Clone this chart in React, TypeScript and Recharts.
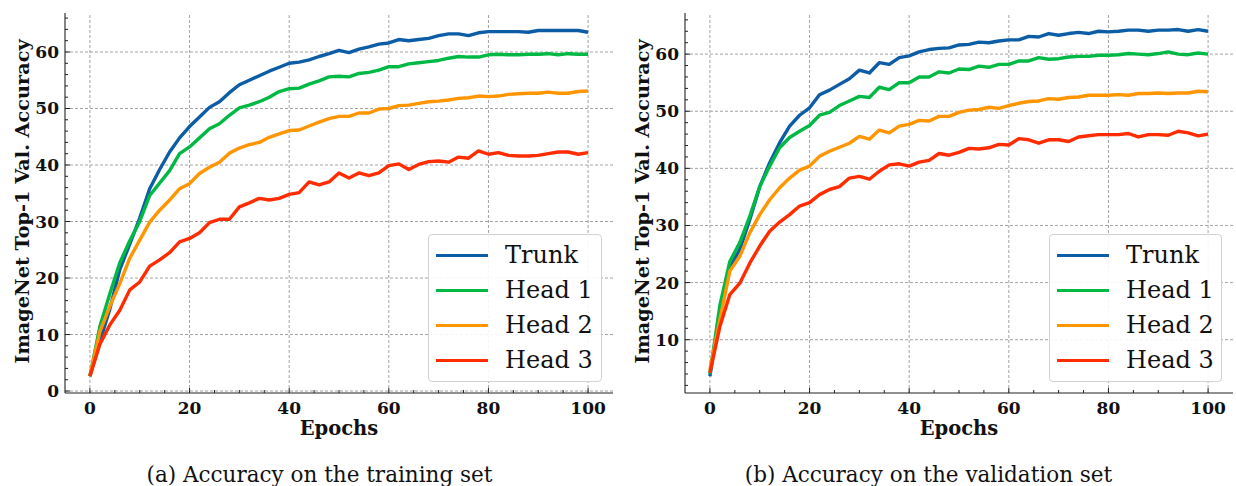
import React from 'react';
import { LineChart, Line, XAxis, YAxis, ReferenceLine, Legend, Label } from 'recharts';

// epochs (one point every 2 epochs)
const epochs = [
  0, 2, 4, 6, 8, 10, 12, 14, 16, 18, 20, 22, 24, 26, 28, 30, 32, 34, 36, 38, 40, 42, 44, 46, 48, 50,
  52, 54, 56, 58, 60, 62, 64, 66, 68, 70, 72, 74, 76, 78, 80, 82, 84, 86, 88, 90, 92, 94, 96, 98, 100,
];

// (a) training set
const trainTrunk = [
  2.7, 8.7, 14.5, 21.5, 26.0, 30.6, 35.8, 39.2, 42.3, 44.8, 46.8, 48.5, 50.2, 51.2, 52.8, 54.2, 55.0,
  55.8, 56.6, 57.3, 58.0, 58.2, 58.6, 59.2, 59.7, 60.3, 59.9, 60.5, 60.9, 61.4, 61.6, 62.2, 62.0, 62.2,
  62.4, 62.9, 63.2, 63.2, 62.9, 63.4, 63.6, 63.6, 63.6, 63.6, 63.5, 63.8, 63.8, 63.8, 63.8, 63.8, 63.5,
];
const trainHead1 = [
  2.6, 11.4, 17.2, 22.7, 26.6, 30.0, 34.6, 36.8, 39.0, 42.0, 43.2, 44.8, 46.4, 47.3, 48.8, 50.1, 50.6,
  51.2, 52.0, 53.0, 53.5, 53.6, 54.3, 54.9, 55.6, 55.7, 55.6, 56.2, 56.4, 56.8, 57.4, 57.4, 57.9, 58.1,
  58.3, 58.5, 58.9, 59.2, 59.1, 59.1, 59.5, 59.6, 59.5, 59.5, 59.6, 59.6, 59.7, 59.5, 59.7, 59.6, 59.6,
];
const trainHead2 = [
  2.7, 10.5, 15.0, 19.0, 23.5, 26.7, 29.9, 32.0, 33.8, 35.8, 36.7, 38.5, 39.6, 40.5, 42.1, 43.0, 43.6,
  44.0, 44.9, 45.5, 46.1, 46.2, 46.9, 47.6, 48.2, 48.6, 48.6, 49.2, 49.2, 49.9, 50.0, 50.5, 50.6, 50.9,
  51.2, 51.3, 51.5, 51.8, 51.9, 52.2, 52.1, 52.2, 52.5, 52.6, 52.7, 52.7, 52.9, 52.7, 52.7, 53.0, 53.1,
];
const trainHead3 = [
  2.6, 8.3, 11.7, 14.3, 17.9, 19.3, 22.1, 23.2, 24.5, 26.4, 27.0, 28.0, 29.8, 30.4, 30.4, 32.6, 33.3,
  34.1, 33.8, 34.1, 34.8, 35.1, 37.0, 36.5, 37.0, 38.6, 37.7, 38.6, 38.1, 38.6, 39.9, 40.2, 39.2, 40.1,
  40.6, 40.7, 40.5, 41.4, 41.2, 42.5, 41.9, 42.2, 41.7, 41.6, 41.6, 41.7, 42.0, 42.3, 42.3, 41.9, 42.2,
];

// (b) validation set
const valTrunk = [
  3.6, 15.0, 22.6, 25.8, 31.0, 36.8, 41.0, 44.5, 47.4, 49.3, 50.6, 52.9, 53.7, 54.7, 55.7, 57.2, 56.7,
  58.5, 58.2, 59.4, 59.7, 60.4, 60.8, 61.0, 61.1, 61.6, 61.7, 62.1, 62.0, 62.3, 62.5, 62.5, 63.1, 63.0,
  63.6, 63.3, 63.6, 63.8, 63.6, 64.0, 63.9, 64.0, 64.2, 64.2, 64.0, 64.2, 64.2, 64.3, 64.0, 64.3, 64.0,
];
const valHead1 = [
  4.0, 16.0, 23.7, 27.0, 31.6, 36.8, 40.4, 43.6, 45.4, 46.5, 47.5, 49.3, 49.8, 51.0, 51.8, 52.6, 52.4,
  54.2, 53.8, 55.0, 55.0, 56.0, 56.0, 56.9, 56.7, 57.4, 57.3, 57.9, 57.7, 58.2, 58.2, 58.8, 58.8, 59.4,
  59.1, 59.2, 59.5, 59.6, 59.6, 59.8, 59.8, 59.9, 60.1, 60.0, 59.9, 60.1, 60.4, 60.0, 59.9, 60.2, 60.0,
];
const valHead2 = [
  4.7, 13.5, 22.0, 24.6, 28.7, 31.9, 34.5, 36.6, 38.3, 39.7, 40.4, 42.1, 43.0, 43.7, 44.4, 45.6, 45.1,
  46.7, 46.2, 47.4, 47.7, 48.4, 48.3, 49.1, 49.1, 49.8, 50.2, 50.3, 50.7, 50.5, 51.0, 51.4, 51.7, 51.8,
  52.2, 52.1, 52.4, 52.5, 52.8, 52.8, 52.8, 52.9, 52.8, 53.1, 53.1, 53.2, 53.1, 53.2, 53.2, 53.5, 53.4,
];
const valHead3 = [
  4.2, 12.3, 17.9, 19.9, 23.4, 26.4, 29.0, 30.6, 31.9, 33.4, 34.0, 35.4, 36.3, 36.8, 38.3, 38.6, 38.1,
  39.5, 40.6, 40.8, 40.4, 41.1, 41.4, 42.6, 42.3, 42.8, 43.5, 43.4, 43.6, 44.2, 44.1, 45.2, 45.0, 44.4,
  45.0, 45.0, 44.7, 45.5, 45.7, 45.9, 45.9, 45.9, 46.1, 45.5, 45.9, 45.9, 45.8, 46.5, 46.2, 45.7, 46.0,
];

const seriesNames = ['Trunk', 'Head 1', 'Head 2', 'Head 3'];
const seriesColors = ['#0C5DA5', '#00B945', '#FF9500', '#FF2C00'];

// ticks
const xMajor = [0, 20, 40, 60, 80, 100];
const xTicks = [0, 5, 10, 15, 20, 25, 30, 35, 40, 45, 50, 55, 60, 65, 70, 75, 80, 85, 90, 95, 100];
const trainYMajor = [0, 10, 20, 30, 40, 50, 60];
const trainYTicks = [
  0, 2, 4, 6, 8, 10, 12, 14, 16, 18, 20, 22, 24, 26, 28, 30, 32, 34, 36, 38, 40, 42, 44, 46, 48, 50,
  52, 54, 56, 58, 60, 62, 64, 66,
];
const valYMajor = [10, 20, 30, 40, 50, 60];
const valYTicks = [
  2, 4, 6, 8, 10, 12, 14, 16, 18, 20, 22, 24, 26, 28, 30, 32, 34, 36, 38, 40, 42, 44, 46, 48, 50,
  52, 54, 56, 58, 60, 62, 64, 66,
];

const INK = '#111';
const FRAME = '#222';
const SERIF = '"DejaVu Serif", serif';
const GRID = '#9a9a9a';

const axisLine = { stroke: FRAME, strokeWidth: 1.1 };

function makeTick(side: 'bottom' | 'top' | 'left' | 'right', major: number[]) {
  return (props: any) => {
    const { x, y, payload } = props;
    const isMajor = major.includes(payload.value);
    const len = isMajor ? 5 : 3;
    let line;
    if (side === 'bottom') line = <line x1={x} x2={x} y1={y} y2={y - len} />;
    else if (side === 'top') line = <line x1={x} x2={x} y1={y} y2={y + len} />;
    else if (side === 'left') line = <line x1={x} x2={x + len} y1={y} y2={y} />;
    else line = <line x1={x} x2={x - len} y1={y} y2={y} />;
    return (
      <g>
        <g stroke={FRAME} strokeWidth={1}>{line}</g>
        {isMajor && side === 'bottom' && (
          <text x={x} y={y + 21} textAnchor="middle" fontFamily={SERIF} fontWeight={700} fontSize={17} fill={INK}>
            {payload.value}
          </text>
        )}
        {isMajor && side === 'left' && (
          <text x={x - 6} y={y + 6} textAnchor="end" fontFamily={SERIF} fontWeight={700} fontSize={17} fill={INK}>
            {payload.value}
          </text>
        )}
      </g>
    );
  };
}

const renderLegend = (props: any) => {
  // keep the plotting order (Trunk, Head 1, Head 2, Head 3)
  const items = [...(props.payload || [])].sort(
    (a: any, b: any) => seriesNames.indexOf(a.value) - seriesNames.indexOf(b.value),
  );
  return (
    <div
      style={{
        width: '100%',
        height: '100%',
        boxSizing: 'border-box',
        border: '1px solid #d2d2d2',
        borderRadius: 4,
        background: 'rgba(255,255,255,0.9)',
        paddingTop: 3,
      }}
    >
      {items.map((entry: any) => (
        <div key={entry.value} style={{ display: 'flex', alignItems: 'center', height: 35 }}>
          <div style={{ marginLeft: 7, width: 52, height: 3.5, background: entry.color }} />
          <span style={{ marginLeft: 17, fontFamily: SERIF, fontSize: 24, lineHeight: '35px', color: INK }}>
            {entry.value}
          </span>
        </div>
      ))}
    </div>
  );
};

interface PanelProps {
  series: number[][];
  yDomain: [number, number];
  yMajor: number[];
  yTicks: number[];
  width: number;
  rightMargin: number;
  legendLeft: number;
  legendWidth: number;
}

function Panel({ series, yDomain, yMajor, yTicks, width, rightMargin, legendLeft, legendWidth }: PanelProps) {
  const data = epochs.map((e, i) => ({
    epoch: e,
    s0: series[0][i],
    s1: series[1][i],
    s2: series[2][i],
    s3: series[3][i],
  }));

  return (
    <LineChart width={width} height={440} data={data} margin={{ top: 13, right: rightMargin, bottom: 0, left: 0 }}>
      {xMajor.map((v) => (
        <ReferenceLine key={'gx' + v} x={v} stroke={GRID} strokeWidth={0.9} strokeDasharray="3 2" />
      ))}
      {yMajor.map((v) => (
        <ReferenceLine key={'gy' + v} y={v} stroke={GRID} strokeWidth={0.9} strokeDasharray="3 2" />
      ))}

      <XAxis
        type="number"
        dataKey="epoch"
        domain={[-5, 105]}
        allowDataOverflow
        ticks={xTicks}
        interval={0}
        tickSize={0}
        tickMargin={0}
        tickLine={false}
        tick={makeTick('bottom', xMajor)}
        axisLine={axisLine}
        height={47}
      >
        <Label
          content={(p: any) => {
            const vb = p.viewBox;
            return (
              <text x={vb.x + vb.width / 2} y={vb.y + 42} textAnchor="middle" fontFamily={SERIF} fontWeight={700} fontSize={19.5} fill={INK}>
                Epochs
              </text>
            );
          }}
        />
      </XAxis>
      <XAxis
        xAxisId="top"
        orientation="top"
        type="number"
        dataKey="epoch"
        domain={[-5, 105]}
        allowDataOverflow
        ticks={xTicks}
        interval={0}
        tickSize={0}
        tickMargin={0}
        tickLine={false}
        tick={makeTick('top', xMajor)}
        axisLine={axisLine}
        height={0}
      />
      <YAxis
        type="number"
        domain={yDomain}
        allowDataOverflow
        ticks={yTicks}
        interval={0}
        tickSize={0}
        tickMargin={0}
        tickLine={false}
        tick={makeTick('left', yMajor)}
        axisLine={axisLine}
        width={65}
      >
        <Label
          content={(p: any) => {
            const vb = p.viewBox;
            const cy = vb.y + vb.height / 2 - 1.5;
            return (
              <text
                transform={`translate(${vb.x + 29},${cy}) rotate(-90)`}
                textAnchor="middle"
                fontFamily={SERIF}
                fontWeight={700}
                fontSize={19.3}
                fill={INK}
              >
                ImageNet Top-1 Val. Accuracy
              </text>
            );
          }}
        />
      </YAxis>
      <YAxis
        yAxisId="right"
        orientation="right"
        type="number"
        domain={yDomain}
        allowDataOverflow
        ticks={yTicks}
        interval={0}
        tickSize={0}
        tickMargin={0}
        tickLine={false}
        tick={makeTick('right', yMajor)}
        axisLine={axisLine}
        width={0}
      />

      {seriesNames.map((name, i) => (
        <Line
          key={name}
          type="linear"
          dataKey={'s' + i}
          name={name}
          stroke={seriesColors[i]}
          strokeWidth={3.4}
          strokeLinejoin="round"
          dot={false}
          activeDot={false}
          isAnimationActive={false}
        />
      ))}

      <Legend
        layout="vertical"
        align="center"
        verticalAlign="middle"
        content={renderLegend}
        wrapperStyle={{ left: legendLeft, top: 234, width: legendWidth, height: 148 }}
      />
    </LineChart>
  );
}

export default function App() {
  return (
    <div style={{ position: 'absolute', left: 0, top: 0, width: 1236, height: 486, background: '#fff', overflow: 'hidden' }}>
      <div style={{ position: 'absolute', left: 0, top: 0 }}>
        <Panel
          series={[trainTrunk, trainHead1, trainHead2, trainHead3]}
          yDomain={[-0.35, 66.9]}
          yMajor={trainYMajor}
          yTicks={trainYTicks}
          width={620}
          rightMargin={7}
          legendLeft={428}
          legendWidth={174}
        />
      </div>
      <div style={{ position: 'absolute', left: 620, top: 0 }}>
        <Panel
          series={[valTrunk, valHead1, valHead2, valHead3]}
          yDomain={[0.67, 67.2]}
          yMajor={valYMajor}
          yTicks={valYTicks}
          width={616}
          rightMargin={3}
          legendLeft={429}
          legendWidth={173}
        />
      </div>
      <svg style={{ position: 'absolute', left: 0, top: 440 }} width={1236} height={46}>
        <text x={319.5} y={42} textAnchor="middle" fontFamily={SERIF} fontSize={21.5} fill={INK}>
          (a) Accuracy on the training set
        </text>
        <text x={928.5} y={42} textAnchor="middle" fontFamily={SERIF} fontSize={21.5} fill={INK}>
          (b) Accuracy on the validation set
        </text>
      </svg>
    </div>
  );
}
